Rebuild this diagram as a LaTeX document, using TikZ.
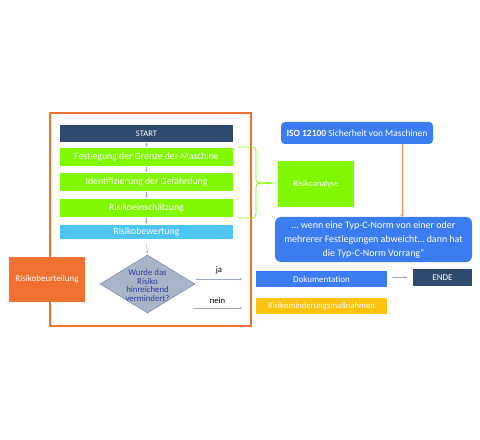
\documentclass[tikz,border=0pt]{standalone}
\usepackage{fontspec}
\setmainfont{Carlito}
\usetikzlibrary{shapes.geometric,arrows.meta}
\definecolor{navy}{HTML}{2E4A6E}
\definecolor{lgreen}{HTML}{80F800}
\definecolor{lblue}{HTML}{4CC4F4}
\definecolor{orng}{HTML}{F07030}
\definecolor{bblue}{HTML}{3B7CF0}
\definecolor{yell}{HTML}{FFC20E}
\definecolor{dfill}{HTML}{A8B4C8}
\definecolor{dline}{HTML}{6E7EA0}
\definecolor{dtext}{HTML}{2A3F9A}
\definecolor{arrgray}{HTML}{9AA8C0}
\tikzset{
  box/.style={rectangle, inner sep=0pt, text=white, align=center},
  flow/.style={box, minimum width=173bp, font=\fontsize{9.8}{11}\selectfont},
  tinyarrow/.style={-{Stealth[length=2.5bp,width=2.5bp]}, draw=arrgray, fill=bblue, line width=0.4bp},
}
\begin{document}
\begin{tikzpicture}[x=1bp,y=-1bp]
\useasboundingbox (0,0) rectangle (480,440);
% frame
\node[draw=orng, line width=1.6bp, minimum width=201bp, minimum height=213bp, inner sep=0pt] (frame) at (150.5,219.5) {};
% flow
\node[flow, fill=navy, minimum height=17bp, font=\fontsize{8.6}{9}\selectfont] (start) at (146.5,133.5) {START};
\node[flow, fill=lgreen, minimum height=18bp] (fest) at (146.5,157) {Festlegung der Grenze der Maschine};
\node[flow, fill=lgreen, minimum height=18bp] (ident) at (146.5,182) {Identifizierung der Gefährdung};
\node[flow, fill=lgreen, minimum height=18bp] (einsch) at (146.5,208) {Risikoeinschätzung};
\node[flow, fill=lblue, minimum height=14bp] (bew) at (146.5,232) {Risikobewertung};
\node[diamond, draw=dline, fill=dfill, minimum width=95bp, minimum height=58bp, inner sep=0pt,
  label={[text=dtext, align=center, font=\fontsize{8.8}{8.6}\selectfont, yshift=-1.5bp]center:{Wurde das\\Risiko\\hinreichend\\vermindert?}}] (dia) at (147.5,284) {};
\draw[tinyarrow] ([yshift=-1bp]start.south) -- ([yshift=1bp]fest.north);
\draw[tinyarrow] ([yshift=-1bp]fest.south) -- ([yshift=1bp]ident.north);
\draw[tinyarrow] ([yshift=-1bp]ident.south) -- ([yshift=1bp]einsch.north);
\draw[tinyarrow] ([yshift=-1bp]einsch.south) -- ([yshift=1bp]bew.north);
\draw[tinyarrow] ([yshift=-5bp]bew.south) -- ([yshift=1.5bp]dia.north);
% ja / nein
\coordinate (ja1) at (196,279);
\coordinate (ja2) at (242,279);
\coordinate (ne1) at (193,308);
\coordinate (ne2) at (242,308);
\draw[tinyarrow] (ja1) -- node[above=1bp, text=black, font=\fontsize{8.7}{9}\selectfont] (jal) {ja} (ja2);
\draw[tinyarrow] (ne1) -- node[above=1bp, text=black, font=\fontsize{8.7}{9}\selectfont] (nel) {nein} (ne2);
% Risikobeurteilung
\node[box, fill=orng, minimum width=76bp, minimum height=45bp, font=\fontsize{9}{10}\selectfont] (beurt) at (47,279.5) {Risikobeurteilung};
% brace
\coordinate (btip) at (275,183);
\draw[lgreen, line width=0.7bp] (238,147) -- (252,147) to[out=0,in=90] (256,151) -- (256,179) to[out=-90,in=180] (btip) to[out=180,in=90] (256,187) -- (256,214) to[out=-90,in=0] (252,218) -- (238,218);
% Risikoanalyse
\node[box, fill=lgreen, minimum width=76bp, minimum height=46bp, font=\fontsize{8.4}{9}\selectfont] (ana) at (316,184) {Risikoanalyse};
% ISO
\node[box, fill=bblue, rounded corners=4bp, minimum width=152bp, minimum height=22bp, font=\fontsize{9.5}{10}\selectfont] (iso) at (357,133) {\textbf{ISO 12100} Sicherheit von Maschinen};
\node[box, fill=bblue, rounded corners=6bp, minimum width=197bp, minimum height=45bp, font=\fontsize{10}{14}\selectfont] (note) at (373.5,239.5) {… wenn eine Typ-C-Norm von einer oder\\mehrerer Festlegungen abweicht… dann hat\\die Typ-C-Norm Vorrang“};
\coordinate (isoout) at (402,144);
\coordinate (notein) at (402,217);
\draw[-{Stealth[length=3bp,width=3bp]}, draw=orng!80, line width=0.6bp] (isoout) -- (notein);
% bottom right
\node[box, fill=bblue, minimum width=131bp, minimum height=16bp, font=\fontsize{9}{10}\selectfont] (doku) at (321.5,279) {Dokumentation};
\node[box, fill=navy, minimum width=59bp, minimum height=17bp, font=\fontsize{9}{10}\selectfont] (ende) at (442.5,277.5) {ENDE};
\node[box, fill=yell, minimum width=131bp, minimum height=16bp, font=\fontsize{8.7}{10}\selectfont] (minder) at (321.5,306) {Risikominderungsmaßnahmen};
\draw[tinyarrow] ([xshift=5bp]doku.east |- ende.west) -- ([xshift=-6bp]ende.west);
\end{tikzpicture}
\end{document}
